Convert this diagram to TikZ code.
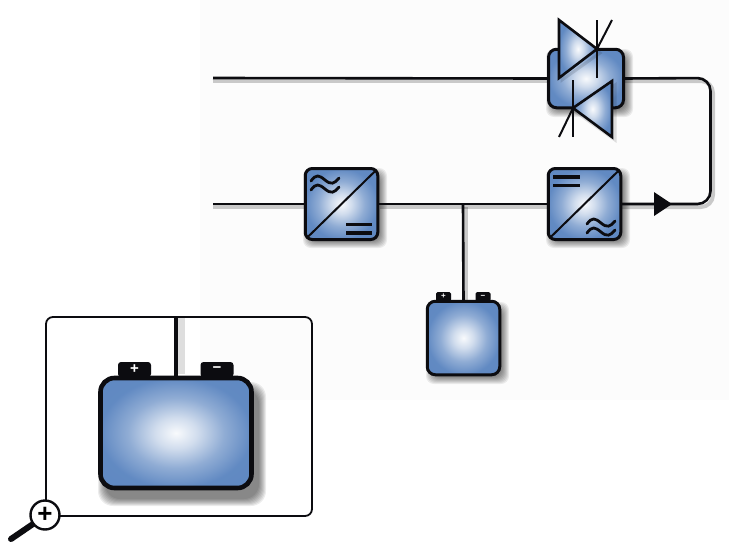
\documentclass[tikz,border=0pt]{standalone}
\usepackage{fontspec}
\setmainfont{Liberation Sans}
\usetikzlibrary{calc}
\definecolor{edgeblue}{HTML}{5B85C0}
\definecolor{ink}{HTML}{0C0C10}
\pgfdeclareradialshading{cellshade}{\pgfpoint{0bp}{0bp}}{color(0bp)=(white!96!edgeblue); color(7bp)=(white!72!edgeblue); color(16bp)=(white!32!edgeblue); color(25bp)=(edgeblue!96!white); color(50bp)=(edgeblue)}
\tikzset{
  wire/.style={draw=ink,line width=2.6pt},
  wireshadow/.style={draw=black,opacity=.2,line width=4pt},
  cell/.style={draw=ink,shading=cellshade,rounded corners=#1,inner sep=0pt,line width=3pt,outer sep=0pt},
  cell/.default=7pt,
  glyph/.style={draw=ink,line width=3.2pt},
  wave/.style={draw=ink,line width=2.8pt,line cap=round},
  thin glyph/.style={draw=ink,line width=2pt},
  valve/.style={shading=cellshade},
  valve edge/.style={draw=ink,line width=2.6pt,line join=miter},
  terminal/.style={fill=ink,rounded corners=1.5pt,inner sep=0pt,outer sep=0pt,text=white,font=\bfseries}
}
\newcommand\softshadow[6][.07]{%
  \foreach \k in {0,1,...,7}{%
    \fill[black,opacity=#1,rounded corners=#6] ({#2+\k-2},{#3+\k-2}) rectangle ({#4-\k+2},{#5-\k+2});}}
\newcommand\approxglyph[2]{%
  \draw[wave] (#1,#2) .. controls +(5,-7) and +(-6,-5) .. ++(14,-1) .. controls +(6,5) and +(-5,6) .. ++(14,-2);
  \draw[wave] (#1,#2+9) .. controls +(5,-7) and +(-6,-5) .. ++(14,-1) .. controls +(6,5) and +(-5,6) .. ++(14,-2);}
\begin{document}
\begin{tikzpicture}[x=1pt,y=-1pt]
\useasboundingbox (0,0) rectangle (729,544);
\fill[white] (0,0) rectangle (729,544);
\fill[black!1] (200,0) rectangle (729,400);

% coordinates for free ends and corners
\coordinate (acin) at (213,78);
\coordinate (dcin) at (213,204);
\coordinate (tr) at (710.5,78);
\coordinate (br) at (710.5,204);
\coordinate (tap) at (463,204);

% shadows of the wires
\draw[wireshadow] (213,81) -- (547,81);
\draw[wireshadow] (213,207) -- (304,207);
\draw[wireshadow] (380,207) -- (547,207);
\draw[wireshadow,rounded corners=12pt] (625,81) -- (713,81) -- (713,207) -- (622,207);
\draw[wireshadow] (466,207) -- (466,300);

% shadows of the blocks
\softshadow{305}{170}{385}{246}{8pt}
\softshadow{548}{170}{628}{246}{8pt}
\softshadow{548}{51}{631}{115}{8pt}
\softshadow{428}{304}{507}{382}{8pt}

% nodes
\node[cell=8pt,minimum width=75pt,minimum height=58.5pt] (thy) at (586,78.5) {};
\node[cell=7pt,minimum width=72.5pt,minimum height=71pt] (rect) at (341.5,204) {};
\node[cell=7pt,minimum width=72.5pt,minimum height=71pt] (inv) at (584.5,204) {};
\node[cell=8pt,minimum width=72.5pt,minimum height=73.5pt] (batt) at (463.5,338) {};
\node[terminal,minimum width=15pt,minimum height=9pt,font=\bfseries\fontsize{8}{8}\selectfont,anchor=south] (bp) at (443.5,301) {+};
\node[terminal,minimum width=15pt,minimum height=9pt,font=\bfseries\fontsize{8}{8}\selectfont,anchor=south] (bm) at (483,301) {−};

% connectors
\draw[wire] (acin) -- (thy.west);
\draw[wire] (dcin) -- (rect.west);
\draw[wire] (rect.east) -- (inv.west);
\draw[wire,rounded corners=13pt] (thy.east) -- (tr) -- (br) -- (inv.east);
\draw[wire] (tap) -- (batt.north);
\node[inner sep=0pt,minimum size=0pt] (tip) at (672,204) {};
\fill[ink] (654,192) -- (tip.center) -- (654,216) -- cycle;

% converter glyphs
\draw[thin glyph] (rect.south west) ++(1.5,-1.5) -- ($(rect.north east)+(-1.5,1.5)$);
\approxglyph{311}{181}
\draw[glyph] (346,224.5) -- (372,224.5);
\draw[glyph] (346,233) -- (372,233);
\draw[thin glyph] (inv.south west) ++(1.5,-1.5) -- ($(inv.north east)+(-1.5,1.5)$);
\draw[glyph] (553,177) -- (580,177);
\draw[glyph] (553,185.5) -- (580,185.5);
\approxglyph{587}{224}

% anti-parallel thyristors
\draw[black,opacity=.12,line width=3pt] (562,24) -- (562,80) -- (600,53) -- cycle;
\draw[black,opacity=.12,line width=3pt] (615,85) -- (615,140) -- (576,112) -- cycle;
\path[valve] (559,20) -- (559,78) -- (597,49) -- cycle;
\draw[valve edge] (559,20) -- (559,78) -- (597,49) -- cycle;
\draw[thin glyph] (597,20) -- (597,78);
\draw[thin glyph] (597,49) -- (612,20);
\path[valve] (612,81) -- (612,137) -- (573,108) -- cycle;
\draw[valve edge] (612,81) -- (612,137) -- (573,108) -- cycle;
\draw[thin glyph] (573,80) -- (573,137);
\draw[thin glyph] (573,108) -- (559,137);

% detail panel
\node[draw=ink,line width=1.8pt,rounded corners=7pt,minimum width=266pt,minimum height=199pt,inner sep=0pt,outer sep=0pt] (panel) at (179,416.5) {};
\fill[black,opacity=.13] (178,318) rectangle (185,374);
\softshadow[.075]{100}{384}{264}{504}{15pt}
\node[cell=14pt,line width=4.6pt,minimum width=151pt,minimum height=110pt] (bigbat) at (176,433) {};
\node[terminal,minimum width=33pt,minimum height=15pt,rounded corners=3pt,font=\bfseries\fontsize{15}{15}\selectfont,anchor=south] (bigp) at (134.5,377) {+};
\node[terminal,minimum width=33pt,minimum height=15pt,rounded corners=3pt,font=\bfseries\fontsize{15}{15}\selectfont,anchor=south] (bigm) at (217,377) {−};
\draw[ink,line width=3.6pt] (bigbat.north) -- (bigbat.north |- panel.north);

% magnifier
\coordinate (handle) at (11,539);
\draw[ink,line width=6pt,line cap=round] (handle) -- (33,524);
\node[circle,draw=ink,fill=white,line width=2.4pt,minimum size=29pt,inner sep=0pt,font=\bfseries\fontsize{26}{26}\selectfont] (lens) at (45,515) {\raisebox{1pt}{+}};
\end{tikzpicture}
\end{document}
